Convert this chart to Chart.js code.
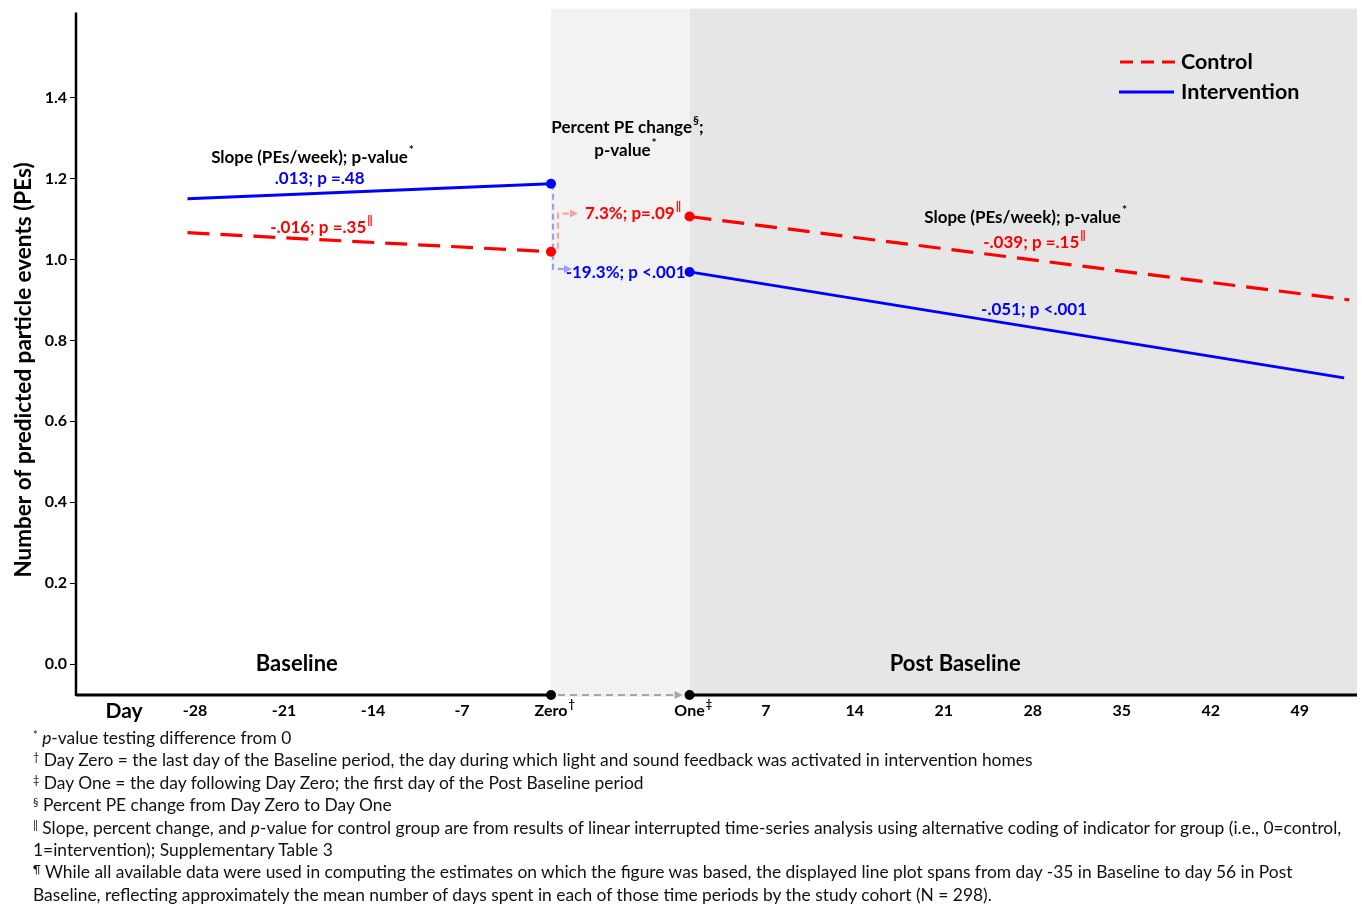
<!DOCTYPE html>
<html>
<head>
<meta charset="utf-8">
<script src="https://cdn.jsdelivr.net/npm/chart.js@4.4.1/dist/chart.umd.min.js"></script>
<style>
  html, body { margin: 0; padding: 0; background: #fff; }
  #wrap { position: relative; width: 1362px; height: 904px; overflow: hidden; }
  #box { position: absolute; left: 0; top: 0; width: 1362px; height: 730px; }
  #notes { position: absolute; left: 33px; top: 727px; font-family: Lato, sans-serif; font-size: 17.4px;
           line-height: 22.4px; color: #111; white-space: nowrap; }
  #notes sup { font-size: 11px; vertical-align: top; position: relative; top: -3px; }
</style>
</head>
<body>
<div id="wrap">
  <div id="box"><canvas id="chart"></canvas></div>
  <div id="notes">
    <div><sup>*</sup> <i>p</i>-value testing difference from 0</div>
    <div><sup>†</sup> Day Zero = the last day of the Baseline period, the day during which light and sound feedback was activated in intervention homes</div>
    <div><sup>‡</sup> Day One = the day following Day Zero; the first day of the Post Baseline period</div>
    <div><sup>§</sup> Percent PE change from Day Zero to Day One</div>
    <div><sup>‖</sup> Slope, percent change, and <i>p</i>-value for control group are from results of linear interrupted time-series analysis using alternative coding of indicator for group (i.e., 0=control,</div>
    <div>1=intervention); Supplementary Table 3</div>
    <div><sup>¶</sup> While all available data were used in computing the estimates on which the figure was based, the displayed line plot spans from day -35 in Baseline to day 56 in Post</div>
    <div>Baseline, reflecting approximately the mean number of days spent in each of those time periods by the study cohort (N = 298).</div>
  </div>
</div>
<script>
// days of the fitted segments
const baseDays = [-28.6, 0];
const ctlPostDays = [1, 52.9];
const intPostDays = [1, 52.5];

// predicted PEs
const ctlBase = [1.066, 1.019];
const intBase = [1.150, 1.187];
const ctlPost = [1.106, 0.900];
const intPost = [0.969, 0.707];

const yTicks = [0, 0.2, 0.4, 0.6, 0.8, 1.0, 1.2, 1.4];
const xTickDays = [-28, -21, -14, -7, 0, 1, 7, 14, 21, 28, 35, 42, 49];
const xTickLabels = ["-28", "-21", "-14", "-7", "Zero", "One", "7", "14", "21", "28", "35", "42", "49"];
const xTickSup = { Zero: "†", One: "‡" };

// post baseline days are pushed right to leave the Zero -> One gap
const GAP = 9.9;
const pos = d => (d <= 0 ? d : d + GAP);

const RED = "#ff0000";
const BLUE = "#0000ff";
const FONT = "Lato, 'Open Sans', sans-serif";

function pts(days, vals) {
  return days.map((d, i) => ({ x: pos(d), y: vals[i] }));
}

// text with superscript pieces: parts = [[text, isSup], ...]
function rich(ctx, parts, x, y, size, color, align) {
  const main = "bold " + size + "px " + FONT;
  const sup = "bold " + Math.round(size * 0.7) + "px " + FONT;
  let w = 0;
  parts.forEach(p => { ctx.font = p[1] ? sup : main; w += ctx.measureText(p[0]).width; });
  let cx = align === "center" ? x - w / 2 : align === "right" ? x - w : x;
  ctx.fillStyle = color;
  ctx.textAlign = "left";
  ctx.textBaseline = "middle";
  parts.forEach(p => {
    ctx.font = p[1] ? sup : main;
    ctx.fillText(p[0], cx + (p[1] ? 1 : 0), p[1] ? y - size * 0.42 : y);
    cx += ctx.measureText(p[0]).width + (p[1] ? 1 : 0);
  });
}

function arrowHead(ctx, x, y, color, dir) {
  ctx.save();
  ctx.setLineDash([]);
  ctx.fillStyle = color;
  ctx.beginPath();
  ctx.moveTo(x, y);
  ctx.lineTo(x - 8 * dir, y - 4);
  ctx.lineTo(x - 8 * dir, y + 4);
  ctx.closePath();
  ctx.fill();
  ctx.restore();
}

const decor = {
  id: "decor",
  beforeDatasetsDraw(chart) {
    const { ctx, chartArea: a, scales: { x, y } } = chart;
    const x0 = x.getPixelForValue(pos(0));
    const x1 = x.getPixelForValue(pos(1));
    ctx.save();
    // period shading
    ctx.fillStyle = "#f2f2f2";
    ctx.fillRect(x0, a.top - 4, x1 - x0, a.bottom - a.top + 6);
    ctx.fillStyle = "#e6e6e6";
    ctx.fillRect(x1, a.top - 4, a.right - x1, a.bottom - a.top + 6);

    // axes
    ctx.strokeStyle = "#000";
    ctx.lineWidth = 2.5;
    ctx.beginPath();
    ctx.moveTo(a.left, a.top);
    ctx.lineTo(a.left, a.bottom + 1);
    ctx.stroke();
    ctx.lineWidth = 3;
    ctx.beginPath();
    ctx.moveTo(a.left, a.bottom);
    ctx.lineTo(x0, a.bottom);
    ctx.moveTo(x1, a.bottom);
    ctx.lineTo(a.right, a.bottom);
    ctx.stroke();
    ctx.strokeStyle = "#a6a6a6";
    ctx.lineWidth = 2;
    ctx.setLineDash([7, 5]);
    ctx.beginPath();
    ctx.moveTo(x0 + 7, a.bottom);
    ctx.lineTo(x1 - 14, a.bottom);
    ctx.stroke();
    arrowHead(ctx, x1 - 7, a.bottom, "#a6a6a6", 1);
    ctx.fillStyle = "#000";
    [x0, x1].forEach(px => { ctx.beginPath(); ctx.arc(px, a.bottom, 5, 0, Math.PI * 2); ctx.fill(); });

    // Zero -> One change arrows
    const lb = "#9d9dff", lr = "#f7a3a3";
    const yb0 = y.getPixelForValue(intBase[1]), yb1 = y.getPixelForValue(intPost[0]) - 3;
    const yr0 = y.getPixelForValue(ctlBase[1]), yr1 = y.getPixelForValue(ctlPost[0]) - 3;
    ctx.lineWidth = 2.2;
    ctx.setLineDash([6, 4]);
    ctx.strokeStyle = lb;
    ctx.beginPath();
    ctx.moveTo(x0 + 2, yb0);
    ctx.lineTo(x0 + 2, yb1);
    ctx.lineTo(x0 + 14, yb1);
    ctx.stroke();
    arrowHead(ctx, x0 + 21, yb1, lb, 1);
    ctx.strokeStyle = lr;
    ctx.beginPath();
    ctx.moveTo(x0, yr0);
    ctx.lineTo(x0 + 7, yr0);
    ctx.lineTo(x0 + 7, yr1);
    ctx.lineTo(x0 + 19, yr1);
    ctx.stroke();
    arrowHead(ctx, x0 + 27, yr1, lr, 1);
    ctx.restore();
  },
  afterDatasetsDraw(chart) {
    const { ctx, chartArea: a, scales: { x, y } } = chart;
    const px = d => x.getPixelForValue(pos(d));
    const py = v => y.getPixelForValue(v);
    ctx.save();

    // period names
    rich(ctx, [["Baseline"]], px(-20), py(0), 22, "#000", "center");
    rich(ctx, [["Post Baseline"]], px(21.9), py(0), 22, "#000", "center");

    // baseline slopes
    rich(ctx, [["Slope (PEs/week); p-value"], ["*", 1]], px(-18.8), py(1.252), 17, "#000", "center");
    rich(ctx, [[".013; p =.48"]], px(-18.2), py(1.2), 17, BLUE, "center");
    rich(ctx, [["-.016; p =.35"], ["‖", 1]], px(-18.1), py(1.079), 17, RED, "center");

    // percent change
    rich(ctx, [["Percent PE change"], ["§", 1], [";"]], px(0) + 76, py(1.326), 17, "#000", "center");
    rich(ctx, [["p-value"], ["*", 1]], px(0) + 74, py(1.27), 17, "#000", "center");
    rich(ctx, [["7.3%; p=.09"], ["‖", 1]], px(0) + 34, py(1.113), 17, RED, "left");
    rich(ctx, [["-19.3%; p <.001"]], px(1) - 4, py(0.967), 17, BLUE, "right");

    // post baseline slopes
    rich(ctx, [["Slope (PEs/week); p-value"], ["*", 1]], px(27.4), py(1.104), 17, "#000", "center");
    rich(ctx, [["-.039; p =.15"], ["‖", 1]], px(28.1), py(1.042), 17, RED, "center");
    rich(ctx, [["-.051; p <.001"]], px(28.1), py(0.876), 17, BLUE, "center");

    // legend
    ctx.lineWidth = 3;
    ctx.strokeStyle = RED;
    ctx.setLineDash([13, 8]);
    ctx.beginPath(); ctx.moveTo(1120, 62); ctx.lineTo(1176, 62); ctx.stroke();
    ctx.setLineDash([]);
    ctx.strokeStyle = BLUE;
    ctx.beginPath(); ctx.moveTo(1119, 92); ctx.lineTo(1174, 92); ctx.stroke();
    rich(ctx, [["Control"]], 1181, 62, 21.5, "#000", "left");
    rich(ctx, [["Intervention"]], 1181, 92, 21.5, "#000", "left");

    // x tick labels
    xTickDays.forEach((d, i) => {
      const t = xTickLabels[i];
      ctx.font = "bold 16px " + FONT;
      const w = ctx.measureText(t).width;
      const parts = xTickSup[t] ? [[t], [xTickSup[t], 1]] : [[t]];
      rich(ctx, parts, px(d) - w / 2, a.bottom + 16, 16, "#000", "left");
    });
    rich(ctx, [["Day"]], 124, a.bottom + 16, 21, "#000", "center");

    // y title
    ctx.translate(24, 370);
    ctx.rotate(-Math.PI / 2);
    rich(ctx, [["Number of predicted particle events (PEs)"]], 0, 0, 22.5, "#000", "center");
    ctx.restore();
  }
};

const line = (days, vals, color, dash, width, radii) => ({
  data: pts(days, vals),
  borderColor: color,
  backgroundColor: color,
  borderWidth: width,
  borderDash: dash,
  pointRadius: radii,
  pointBorderWidth: 0,
  pointBackgroundColor: color,
  tension: 0
});

new Chart(document.getElementById("chart"), {
  type: "line",
  data: {
    datasets: [
      line(baseDays, ctlBase, RED, [22, 11], 3.2, [0, 5]),
      line(ctlPostDays, ctlPost, RED, [22, 11], 3.2, [5, 0]),
      line(baseDays, intBase, BLUE, [], 2.8, [0, 5]),
      line(intPostDays, intPost, BLUE, [], 2.8, [5, 0])
    ]
  },
  options: {
    responsive: true,
    maintainAspectRatio: false,
    animation: false,
    layout: { padding: { top: 0, right: 5, left: 0, bottom: 0 } },
    plugins: { legend: { display: false }, tooltip: { enabled: false } },
    scales: {
      x: {
        type: "linear",
        min: -37.37,
        max: 63.41,
        afterBuildTicks: s => { s.ticks = xTickDays.map(d => ({ value: pos(d) })); },
        afterFit: s => { s.height = 35; },
        border: { display: false },
        grid: { display: false },
        ticks: { display: false }
      },
      y: {
        type: "linear",
        min: -0.0765,
        max: 1.61,
        afterBuildTicks: s => { s.ticks = yTicks.map(v => ({ value: v })); },
        afterFit: s => { s.width = 76; },
        border: { display: false },
        grid: { drawOnChartArea: false, tickLength: 6, tickColor: "#000", tickWidth: 1 },
        ticks: { color: "#000", padding: 3, font: { family: FONT, size: 16, weight: "bold" }, callback: v => v.toFixed(1) }
      }
    }
  },
  plugins: [decor]
});
</script>
</body>
</html>
